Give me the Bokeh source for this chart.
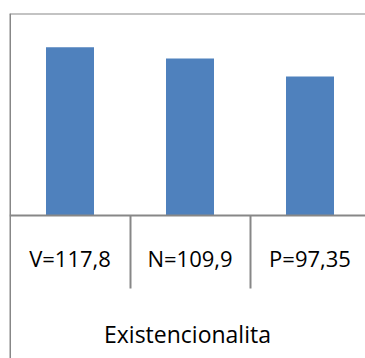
from bokeh.plotting import figure
from bokeh.models import Range1d, LinearAxis, FixedTicker, Span
from bokeh.embed import file_html
from bokeh.resources import INLINE

# ---- data ----
categories = ["V=117,8", "N=109,9", "P=97,35"]
values = [117.8, 109.9, 97.35]
axis_title = "Existencionalita"

n = len(categories)
centers = [i + 0.5 for i in range(n)]
boundaries = [i for i in range(1, n)]

GRID = "#878787"
BAR = "#4f81bd"
FONT = "Open Sans"

W, H = 365, 358
left_border, top_border = 9, 13
cat_px = 120.0
x_start = -0.5 / cat_px
x_end = x_start + (W - left_border) / cat_px
y_start, y_end = -100.1, 141.4

p = figure(width=W, height=H, output_backend="svg", toolbar_location=None,
           x_range=Range1d(x_start, x_end), y_range=Range1d(y_start, y_end),
           x_axis_type=None, y_axis_type=None,
           min_border_left=left_border, min_border_right=0,
           min_border_top=top_border, min_border_bottom=0)
p.outline_line_color = None
p.background_fill_color = "white"
p.border_fill_color = "white"

p.vbar(x=centers, top=values, bottom=0, width=0.4,
       fill_color=BAR, line_color=None)

# category axis at value 0, with separators between the categories
xaxis = LinearAxis(fixed_location=0,
                   ticker=FixedTicker(ticks=centers, minor_ticks=boundaries))
xaxis.major_label_overrides = {c: lab for c, lab in zip(centers, categories)}
xaxis.axis_line_color = GRID
xaxis.axis_line_width = 2
xaxis.major_tick_in = 0
xaxis.major_tick_out = 0
xaxis.minor_tick_in = 0
xaxis.minor_tick_out = 73
xaxis.minor_tick_line_color = GRID
xaxis.minor_tick_line_width = 2
xaxis.major_label_text_font = FONT
xaxis.major_label_text_font_size = "22px"
xaxis.major_label_text_color = "black"
xaxis.major_label_standoff = -46
xaxis.axis_label = axis_title
xaxis.axis_label_text_font = FONT
xaxis.axis_label_text_font_size = "23px"
xaxis.axis_label_text_font_style = "normal"
xaxis.axis_label_text_color = "black"
xaxis.axis_label_standoff = 42
p.add_layout(xaxis, "below")

# chart border: left and top
p.add_layout(Span(location=x_start, dimension="height",
                  line_color=GRID, line_width=3))
p.add_layout(Span(location=y_end, dimension="width",
                  line_color=GRID, line_width=2))

open("out.html", "w").write(file_html(p, INLINE))
